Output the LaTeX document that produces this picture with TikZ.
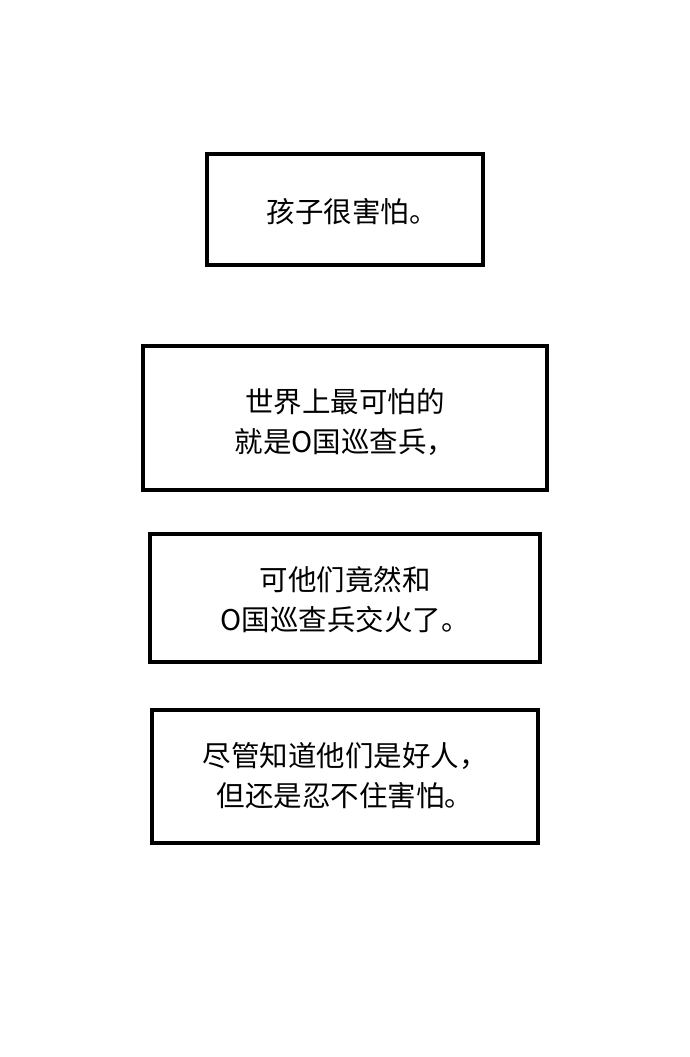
\documentclass[tikz,border=0pt]{standalone}
\usepackage{fontspec}
\newfontfamily\cjk{Noto Sans CJK SC}
\tikzset{
  panel/.style={draw=black, line width=3.4pt, inner sep=0pt},
  caption/.style={font=\cjk\fontsize{28.5pt}{40pt}\selectfont, align=center}
}
\begin{document}
\begin{tikzpicture}[x=1pt,y=1pt]
\useasboundingbox[fill=white] (0,0) rectangle (690,-1057);
% boxes
\draw[panel] (207,-154) rectangle (483,-265);
\draw[panel] (143,-346) rectangle (547,-490);
\draw[panel] (150,-534) rectangle (540,-662);
\draw[panel] (152,-710) rectangle (538,-843);
% texts
\node[caption] (scared) at (352,-212) {孩子很害怕。};
\node[caption] (patrol) at (345,-422) {世界上最可怕的\\就是O国巡查兵，};
\node[caption] (fight) at (345,-600) {可他们竟然和\\O国巡查兵交火了。};
\node[caption] (still) at (345,-776) {尽管知道他们是好人，\\但还是忍不住害怕。};
\end{tikzpicture}
\end{document}
